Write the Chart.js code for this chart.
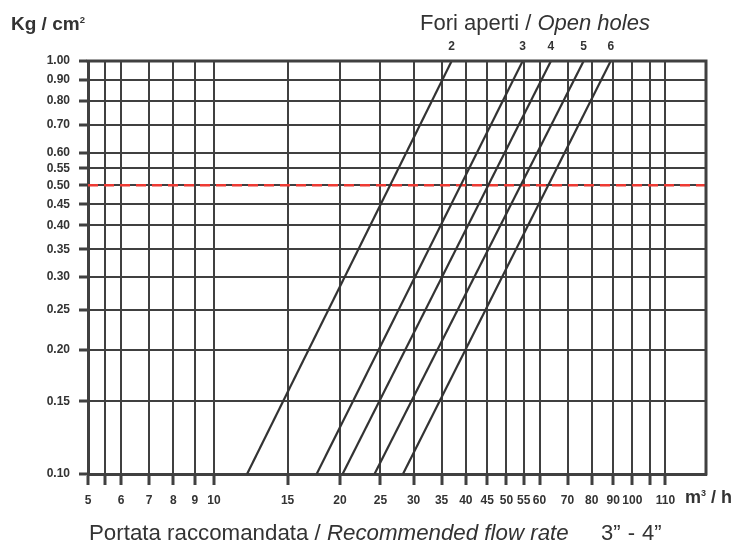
<!DOCTYPE html>
<html>
<head>
<meta charset="utf-8">
<script src="https://cdn.jsdelivr.net/npm/chart.js@4.4.1/dist/chart.umd.min.js"></script>
<style>
  body { margin: 0; background: #fff; }
  #wrap { position: relative; width: 736px; height: 545px; background: #fff; font-family: "Liberation Sans", Arial, sans-serif; color: #333; }
  .txt { position: absolute; white-space: nowrap; line-height: 1; }
  .sup { font-size: 0.5em; position: relative; top: -0.75em; }
</style>
</head>
<body>
<div id="wrap">
  <canvas id="chart" width="736" height="545"></canvas>
  <div class="txt" style="left:11px; top:14px; font-size:19px; font-weight:bold;">Kg / cm<span class="sup">2</span></div>
  <div class="txt" style="left:420px; top:12px; font-size:22px;">Fori aperti / <i>Open holes</i></div>
  <div class="txt" style="left:685px; top:488px; font-size:18px; font-weight:bold;">m<span class="sup">3</span> / h</div>
  <div class="txt" style="left:89px; top:522px; font-size:22.3px;">Portata raccomandata / <i>Recommended flow rate</i></div>
  <div class="txt" style="left:601px; top:522px; font-size:22px; word-spacing:1px;">3” - 4”</div>
</div>
<script>
// numero di fori aperti (una retta per ciascuno)
const holeLabels = ['2', '3', '4', '5', '6'];
// portata (m3/h) letta a 0.10 e a 1.00 Kg/cm2
const flowAtLowP = [12.0, 17.6, 20.3, 24.2, 28.3];
const flowAtHighP = [37.0, 54.7, 63.9, 76.5, 88.8];
const pressureLow = 0.10;
const pressureHigh = 1.00;

// linea rossa tratteggiata
const recommendedPressure = 0.50;
const flowMin = 5;
const flowMax = 150;

// tick degli assi
const xTickValues = [5, 5.5, 6, 7, 8, 9, 10, 15, 20, 25, 30, 35, 40, 45, 50, 55, 60, 70, 80, 90, 100, 110, 120];
const xTickLabels = ['5', '', '6', '7', '8', '9', '10', '15', '20', '25', '30', '35', '40', '45', '50', '55', '60', '70', '80', '90', '100', '', '110'];
const yTickValues = [0.10, 0.15, 0.20, 0.25, 0.30, 0.35, 0.40, 0.45, 0.50, 0.55, 0.60, 0.70, 0.80, 0.90, 1.00];
const yTickLabels = ['0.10', '0.15', '0.20', '0.25', '0.30', '0.35', '0.40', '0.45', '0.50', '0.55', '0.60', '0.70', '0.80', '0.90', '1.00'];

const gridColor = '#404040';
const tickFont = { family: '"Liberation Sans", Arial, sans-serif', size: 12, weight: 'bold' };

const datasets = holeLabels.map(function (lab, i) {
    return {
        label: lab,
        data: [{ x: flowAtLowP[i], y: pressureLow }, { x: flowAtHighP[i], y: pressureHigh }],
        borderColor: '#333',
        borderWidth: 2.2,
        pointRadius: 0
    };
});
datasets.push({
    label: 'ref',
    data: [{ x: flowMin, y: recommendedPressure }, { x: flowMax, y: recommendedPressure }],
    borderColor: '#ee3a33',
    borderWidth: 2.5,
    borderDash: [10, 6],
    pointRadius: 0
});

// bordo superiore e destro + etichette delle rette
const framePlugin = {
    id: 'frame',
    afterDatasetsDraw(chart) {
        const ctx = chart.ctx;
        const a = chart.chartArea;
        ctx.save();
        ctx.strokeStyle = gridColor;
        ctx.lineWidth = 3;
        ctx.beginPath();
        ctx.moveTo(a.left - 1.5, a.top);
        ctx.lineTo(a.right, a.top);
        ctx.lineTo(a.right, a.bottom + 1.5);
        ctx.stroke();

        ctx.fillStyle = '#333';
        ctx.font = 'bold 12px "Liberation Sans", Arial, sans-serif';
        ctx.textAlign = 'center';
        ctx.textBaseline = 'middle';
        holeLabels.forEach(function (lab, i) {
            const meta = chart.getDatasetMeta(i);
            const pt = meta.data[meta.data.length - 1];
            ctx.fillText(lab, pt.x, a.top - 14);
        });
        ctx.restore();
    }
};

new Chart(document.getElementById('chart'), {
    type: 'line',
    data: { datasets: datasets },
    options: {
        responsive: false,
        animation: false,
        layout: { padding: { top: 61, right: 30, left: 0, bottom: 0 } },
        plugins: { legend: { display: false }, tooltip: { enabled: false } },
        scales: {
            x: {
                type: 'logarithmic',
                min: flowMin,
                max: flowMax,
                afterBuildTicks: function (s) { s.ticks = xTickValues.map(v => ({ value: v })); },
                afterFit: function (s) { s.height = 71; },
                ticks: {
                    autoSkip: false, maxRotation: 0, minRotation: 0, padding: 8,
                    color: '#333', font: tickFont,
                    callback: function (v, i) { return xTickLabels[i]; }
                },
                grid: { color: gridColor, lineWidth: 2, tickLength: 11, tickWidth: 3, tickColor: gridColor },
                border: { display: true, color: gridColor, width: 3 }
            },
            y: {
                type: 'logarithmic',
                min: pressureLow,
                max: pressureHigh,
                afterBuildTicks: function (s) { s.ticks = yTickValues.map(v => ({ value: v })); },
                afterFit: function (s) { s.width = 88; },
                ticks: {
                    autoSkip: false, padding: 9,
                    color: '#333', font: tickFont,
                    callback: function (v, i) { return yTickLabels[i]; }
                },
                grid: { color: gridColor, lineWidth: 2, tickLength: 9, tickWidth: 3, tickColor: gridColor },
                border: { display: true, color: gridColor, width: 3 }
            }
        }
    },
    plugins: [framePlugin]
});
</script>
</body>
</html>
